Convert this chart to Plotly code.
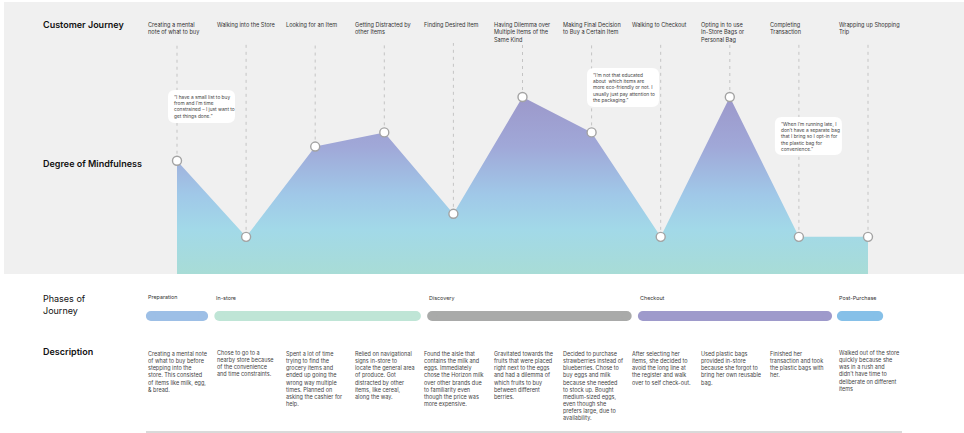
import plotly.graph_objects as go

# ---------------- data ----------------
stages = [
    "Creating a mental<br>note of what to buy",
    "Walking into the Store",
    "Looking for an Item",
    "Getting Distracted by<br>other Items",
    "Finding Desired Item",
    "Having Dilemma over<br>Multiple Items of the<br>Same Kind",
    "Making Final Decision<br>to Buy a Certain Item",
    "Walking to Checkout",
    "Opting in to use<br>In-Store Bags or<br>Personal Bag",
    "Completing<br>Transaction",
    "Wrapping up Shopping<br>Trip",
]
mindfulness = [6.4, 2.1, 7.2, 8.0, 3.4, 10.0, 8.0, 2.1, 10.0, 2.1, 2.1]

descriptions = [
    "Creating a mental note<br>of what to buy before<br>stepping into the<br>store. This consisted<br>of items like milk, egg,<br>& bread.",
    "Chose to go to a<br>nearby store because<br>of the convenience<br>and time constraints.",
    "Spent a lot of time<br>trying to find the<br>grocery items and<br>ended up going the<br>wrong way multiple<br>times. Planned on<br>asking the cashier for<br>help.",
    "Relied on navigational<br>signs in-store to<br>locate the general area<br>of produce. Got<br>distracted by other<br>items, like cereal,<br>along the way.",
    "Found the aisle that<br>contains the milk and<br>eggs. Immediately<br>chose the Horizon milk<br>over other brands due<br>to familiarity even<br>though the price was<br>more expensive.",
    "Gravitated towards the<br>fruits that were placed<br>right next to the eggs<br>and had a dilemma of<br>which fruits to buy<br>between different<br>berries.",
    "Decided to purchase<br>strawberries instead of<br>blueberries. Chose to<br>buy eggs and milk<br>because she needed<br>to stock up. Bought<br>medium-sized eggs,<br>even though she<br>prefers large, due to<br>availability.",
    "After selecting her<br>items, she decided to<br>avoid the long line at<br>the register and walk<br>over to self check-out.",
    "Used plastic bags<br>provided in-store<br>because she forgot to<br>bring her own reusable<br>bag.",
    "Finished her<br>transaction and took<br>the plastic bags with<br>her.",
    "Walked out of the store<br>quickly because she<br>was in a rush and<br>didn\u2019t have time to<br>deliberate on different<br>items",
]

quote_steps = [0, 6, 9]
quotes = [
    "\u201cI have a small list to buy<br>from and I\u2019m time<br>constrained \u2013 I just want to<br>get things done.\u201d",
    "\u201cI\u2019m not that educated<br>about  which items are<br>more eco-friendly or not. I<br>usually just pay attention to<br>the packaging.\u201d",
    "\u201cWhen I\u2019m running late, I<br>don\u2019t have a separate bag<br>that I bring so I opt-in for<br>the plastic bag for<br>convenience.\u201d",
]

phase_names = ["Preparation", "In-store", "Discovery", "Checkout", "Post-Purchase"]
phase_start = [-0.45, 0.54, 3.62, 6.67, 9.55]
phase_end = [0.45, 3.53, 6.58, 9.48, 10.22]
phase_colors = ["#9dbfe6", "#bfe5d6", "#a9aaa9", "#9e9acb", "#86c0e8"]

# ---------------- layout geometry ----------------
W, H = 964, 433
PX0, PXSTEP = 177.0, 69.1          # pixel x of step 0, pixels per step
PY0, PYUNIT = 274.0, 17.7          # pixel y of value 0, pixels per unit
xr = [-PX0 / PXSTEP, (W - PX0) / PXSTEP]
yr = [-(H - PY0) / PYUNIT, PY0 / PYUNIT]


def yp(px):
    return 1 - px / H


def xp(px):
    return px / W


FONT = "Inter"
steps = list(range(len(stages)))

fig = go.Figure()

fig.add_trace(go.Scatter(
    x=steps, y=mindfulness, mode="lines+markers",
    line=dict(width=0, color="rgba(0,0,0,0)"),
    fill="tozeroy",
    fillgradient=dict(
        type="vertical", start=0, stop=10,
        colorscale=[[0, "#a8dcd6"], [0.25, "#a2d9e8"], [0.45, "#a0c8e8"],
                    [0.72, "#a0a8d8"], [1, "#9c98ca"]],
    ),
    marker=dict(size=9, color="white", line=dict(color="#a3a3a3", width=1.4)),
    hoverinfo="skip", showlegend=False,
))

shapes = []
# grey background panel
shapes.append(dict(type="rect", xref="paper", yref="paper", x0=xp(4), x1=1,
                   y0=yp(PY0), y1=yp(2), fillcolor="#f0f0f0", line_width=0, layer="below"))
# dashed guide lines from the stage labels down to each point
for i, v in zip(steps, mindfulness):
    shapes.append(dict(type="line", xref="x", yref="y", x0=i, x1=i, y0=v,
                       y1=(PY0 - 43) / PYUNIT, line=dict(color="#c4c4c4", width=1, dash="3px,4px"),
                       layer="below"))


def rrect(x0, x1, y0, y1, r):
    return (f"M{x0+r},{y0} L{x1-r},{y0} Q{x1},{y0} {x1},{y0+r} L{x1},{y1-r} "
            f"Q{x1},{y1} {x1-r},{y1} L{x0+r},{y1} Q{x0},{y1} {x0},{y1-r} "
            f"L{x0},{y0+r} Q{x0},{y0} {x0+r},{y0} Z")


# quote bubbles: (left px offset from step, right px offset, centre y px, height px)
bubble_geo = [(-9, 58, 106.5, 33), (-4.6, 67.4, 87.5, 39), (-24, 43, 136, 38)]
annotations = []
for s, q, (l, r, cy, h) in zip(quote_steps, quotes, bubble_geo):
    shapes.append(dict(type="path", xref="x", yref="paper", xsizemode="pixel", ysizemode="pixel",
                       xanchor=s, yanchor=yp(cy), path=rrect(l, r, -h / 2, h / 2, 7),
                       fillcolor="white", line_width=0, layer="above"))
    annotations.append(dict(xref="x", yref="paper", x=s, xshift=l + 4, y=yp(cy), xanchor="left",
                            yanchor="middle", text=q, showarrow=False, align="left",
                            font=dict(family=FONT, size=4.8, color="#444444")))

# phase bars
R = 5
for n, a, b, c in zip(phase_names, phase_start, phase_end, phase_colors):
    rd = R / PXSTEP
    shapes.append(dict(type="rect", xref="x", yref="paper", x0=a + rd, x1=b - rd,
                       y0=yp(321), y1=yp(311), fillcolor=c, line_width=0))
    for anchor, (p0, p1) in ((a, (0, 2 * R)), (b, (-2 * R, 0))):
        shapes.append(dict(type="circle", xref="x", yref="paper", xsizemode="pixel",
                           ysizemode="pixel", xanchor=anchor, yanchor=yp(316), x0=p0, x1=p1,
                           y0=-R, y1=R, fillcolor=c, line_width=0))
    annotations.append(dict(xref="x", yref="paper", x=a, y=yp(297.5), xanchor="left",
                            yanchor="middle", text=n, showarrow=False,
                            font=dict(family=FONT, size=5.4, color="#333333")))

# bottom rule
shapes.append(dict(type="line", xref="paper", yref="paper", x0=xp(146), x1=xp(902),
                   y0=yp(432), y1=yp(432), line=dict(color="#b4b4b4", width=1)))

# stage labels and descriptions
for i, (s, d) in enumerate(zip(stages, descriptions)):
    annotations.append(dict(xref="x", yref="paper", x=i, xshift=-31, y=yp(19), xanchor="left",
                            yanchor="top", text=s, showarrow=False, align="left",
                            font=dict(family=FONT, size=5.6, color="#333333")))
    annotations.append(dict(xref="x", yref="paper", x=i, xshift=-31, y=yp(347.5), xanchor="left",
                            yanchor="top", text=d, showarrow=False, align="left",
                            font=dict(family=FONT, size=5.5, color="#444444")))

# row titles
titles = [("Customer Journey", 25, 600), ("Degree of Mindfulness", 163, 600),
          ("Phases of<br>Journey", 304, 400), ("Description", 351, 600)]
for t, py, wgt in titles:
    annotations.append(dict(xref="paper", yref="paper", x=xp(41), y=yp(py), xanchor="left",
                            yanchor="middle", text=t, showarrow=False, align="left",
                            font=dict(family=FONT, size=9, color="#111111", weight=wgt)))

fig.update_layout(
    width=W, height=H, margin=dict(l=0, r=0, t=0, b=0),
    paper_bgcolor="white", plot_bgcolor="rgba(0,0,0,0)",
    xaxis=dict(range=xr, visible=False, fixedrange=True),
    yaxis=dict(range=yr, visible=False, fixedrange=True),
    shapes=shapes, annotations=annotations, showlegend=False,
)

fig.write_html("out.html", config={"staticPlot": True},
               post_script="document.body.style.margin='0';document.body.style.overflow='hidden';")
